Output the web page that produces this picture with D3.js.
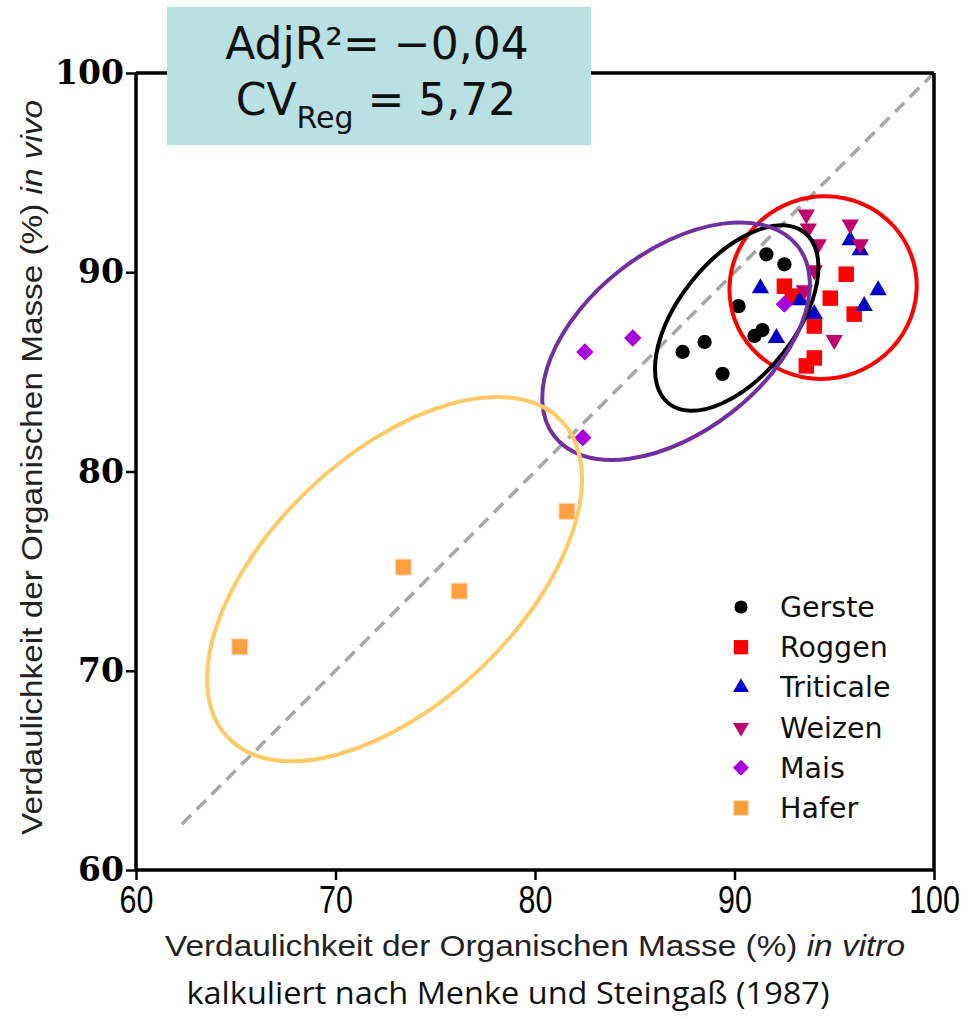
<!DOCTYPE html>
<html>
<head>
<meta charset="utf-8">
<script src="https://cdn.jsdelivr.net/npm/d3@7"></script>
<style>
  body { margin: 0; background: #fff; }
  .ytick text { font-family: "DejaVu Serif", serif; font-weight: bold; font-size: 33px; }
  .xtick text { font-family: "Liberation Sans", sans-serif; font-size: 38px; }
  .title { font-family: "Liberation Sans", sans-serif; font-size: 29px; fill: #222; }
  .legend text { font-family: "DejaVu Sans", sans-serif; font-size: 28.5px; fill: #111; }
  .box text { font-family: "DejaVu Sans", sans-serif; font-size: 44px; fill: #111; }
  .caption { font-family: "Open Sans", sans-serif; font-size: 31px; fill: #111; }
</style>
</head>
<body>
<div id="chart"></div>
<script>
// in vitro (x), in vivo (y)
const gerste    = [[91.6,90.9],[92.5,90.4],[90.2,88.3],[91.4,87.1],[91.0,86.8],[88.5,86.5],[87.4,86.0],[89.4,84.9]];
const roggen    = [[95.6,89.9],[92.5,89.3],[92.9,88.8],[94.8,88.7],[96.0,87.9],[94.0,87.3],[94.0,85.7],[93.6,85.3]];
const triticale = [[95.8,91.6],[96.3,91.1],[91.3,89.2],[97.2,89.1],[93.3,88.6],[94.0,87.9],[96.5,88.3],[92.1,86.7]];
const weizen    = [[93.6,92.9],[93.7,92.2],[95.8,92.4],[96.3,91.4],[94.2,91.4],[94.0,90.1],[93.5,89.1],[95.0,86.6]];
const mais      = [[92.5,88.4],[82.5,86.0],[84.9,86.7],[82.4,81.7]];
const hafer     = [[81.6,78.0],[73.4,75.2],[76.2,74.0],[65.2,71.2]];

const seriesNames = ["Gerste","Roggen","Triticale","Weizen","Mais","Hafer"];
const seriesData  = [gerste, roggen, triticale, weizen, mais, hafer];
const ticks = [60,70,80,90,100];

// groups drawn by hand on the original: center x, center y, semi axes, angle (deg)
const groups = [
  {cx:94.44, cy:89.23, a:4.71, b:4.56, angle:20, color:"#ff0000"},
  {cx:90.11, cy:87.70, a:5.47, b:2.91, angle:51.5, color:"#000000"},
  {cx:87.07, cy:86.54, a:7.74, b:4.53, angle:38, color:"#7030a0"},
  {cx:72.96, cy:74.60, a:11.53, b:6.22, angle:43.5, color:"#ffca66"}
];

const width = 970, height = 1019;
const margin = { t: 73, l: 136, r: 36, b: 149 };

const svg = d3.select("#chart").append("svg")
  .attr("width", width).attr("height", height);

const x = d3.scaleLinear().domain([60,100]).range([margin.l, width - margin.r]);
const y = d3.scaleLinear().domain([60,100]).range([height - margin.b, margin.t]);

const styles = [
  {type: d3.symbolCircle,   size: 160, rot: 0,   fill: "#000000", stroke: "none"},
  {type: d3.symbolSquare,   size: 240, rot: 0,   fill: "#ff0000", stroke: "none"},
  {type: d3.symbolTriangle, size: 130, rot: 0,   fill: "#0000c8", stroke: "none"},
  {type: d3.symbolTriangle, size: 130, rot: 180, fill: "#c0006b", stroke: "none"},
  {type: d3.symbolSquare,   size: 150, rot: 45,  fill: "#a800e0", stroke: "none"},
  {type: d3.symbolSquare,   size: 250, rot: 0,   fill: "#ffa040", stroke: "#ffd2a8"}
];

// identity line
svg.append("line")
  .attr("x1", x(62.3)).attr("y1", y(62.3))
  .attr("x2", x(100)).attr("y2", y(100))
  .attr("stroke", "#a6a6a6").attr("stroke-width", 3.5)
  .attr("stroke-dasharray", "13,8");

// points
seriesData.forEach((data, i) => {
  const s = styles[i];
  svg.append("g").selectAll("path").data(data).enter()
    .append("path")
    .attr("d", d3.symbol().type(s.type).size(s.size))
    .attr("transform", d => "translate(" + x(d[0]) + "," + y(d[1]) + ") rotate(" + s.rot + ")")
    .attr("fill", s.fill)
    .attr("stroke", s.stroke).attr("stroke-width", 1);
});

// ellipses
svg.append("g").selectAll("ellipse").data(groups).enter()
  .append("ellipse")
  .attr("transform", d => "translate(" + x(d.cx) + "," + y(d.cy) + ") rotate(" + (-d.angle) + ")")
  .attr("rx", d => x(d.cx + d.a) - x(d.cx))
  .attr("ry", d => x(d.cx + d.b) - x(d.cx))
  .attr("fill", "none")
  .attr("stroke", d => d.color)
  .attr("stroke-width", 4);

// frame
const frame = svg.append("g").attr("stroke", "#000").attr("stroke-width", 3.5);
frame.append("line").attr("x1", x(60)).attr("x2", x(100)).attr("y1", y(100)).attr("y2", y(100));
frame.append("line").attr("x1", x(100)).attr("x2", x(100)).attr("y1", y(100)).attr("y2", y(60));

// axes
const yAxis = svg.append("g").attr("class", "ytick")
  .attr("transform", "translate(" + x(60) + ",0)")
  .call(d3.axisLeft(y).tickValues(ticks).tickSize(10).tickPadding(2));
const xAxis = svg.append("g").attr("class", "xtick")
  .attr("transform", "translate(0," + y(60) + ")")
  .call(d3.axisBottom(x).tickValues(ticks).tickSize(10).tickPadding(6));
[yAxis, xAxis].forEach(a => {
  a.select(".domain").attr("stroke-width", 3.5).attr("stroke", "#000");
  a.selectAll(".tick line").attr("stroke-width", 2.5).attr("stroke", "#000");
  a.selectAll(".tick text").attr("fill", "#000");
});
yAxis.select(".domain").attr("d", "M0," + y(100) + "V" + y(60));
xAxis.select(".domain").attr("d", "M" + x(60) + ",0H" + x(100));
xAxis.selectAll(".tick text").attr("transform", "scale(0.8,1)");

// axis titles
const xt = svg.append("text").attr("class", "title")
  .attr("x", 535).attr("y", 956).attr("text-anchor", "middle")
  .attr("textLength", 740).attr("lengthAdjust", "spacingAndGlyphs");
xt.append("tspan").text("Verdaulichkeit der Organischen Masse (%) ");
xt.append("tspan").attr("font-style", "italic").text("in vitro");

const yt = svg.append("text").attr("class", "title")
  .attr("transform", "translate(42," + ((y(60) + y(100)) / 2 - 4) + ") rotate(-90)")
  .attr("text-anchor", "middle")
  .attr("textLength", 735).attr("lengthAdjust", "spacingAndGlyphs");
yt.append("tspan").text("Verdaulichkeit der Organischen Masse (%) ");
yt.append("tspan").attr("font-style", "italic").text("in vivo");

svg.append("text").attr("class", "caption")
  .attr("x", 508).attr("y", 1004).attr("text-anchor", "middle")
  .attr("textLength", 643).attr("lengthAdjust", "spacingAndGlyphs")
  .text("kalkuliert nach Menke und Steingaß (1987)");

// legend
const legend = svg.append("g").attr("class", "legend");
seriesNames.forEach((name, i) => {
  const s = styles[i];
  const ly = 607 + i * 40.2;
  legend.append("path")
    .attr("d", d3.symbol().type(s.type).size(s.size * 0.85))
    .attr("transform", "translate(741," + ly + ") rotate(" + s.rot + ")")
    .attr("fill", s.fill).attr("stroke", s.stroke);
  legend.append("text").attr("x", 780).attr("y", ly + 10).text(name);
});

// stats box
const box = svg.append("g").attr("class", "box");
box.append("rect").attr("x", 167).attr("y", 7).attr("width", 424).attr("height", 138).attr("fill", "#b9e0e3");
const l1 = box.append("text").attr("x", 377).attr("y", 59).attr("text-anchor", "middle");
l1.append("tspan").text("AdjR²= −0,04");
const l2 = box.append("text").attr("x", 376).attr("y", 115).attr("text-anchor", "middle");
l2.append("tspan").text("CV");
l2.append("tspan").attr("font-size", "30px").attr("dy", 13).text("Reg");
l2.append("tspan").attr("dy", -13).text(" = 5,72");
</script>
</body>
</html>
